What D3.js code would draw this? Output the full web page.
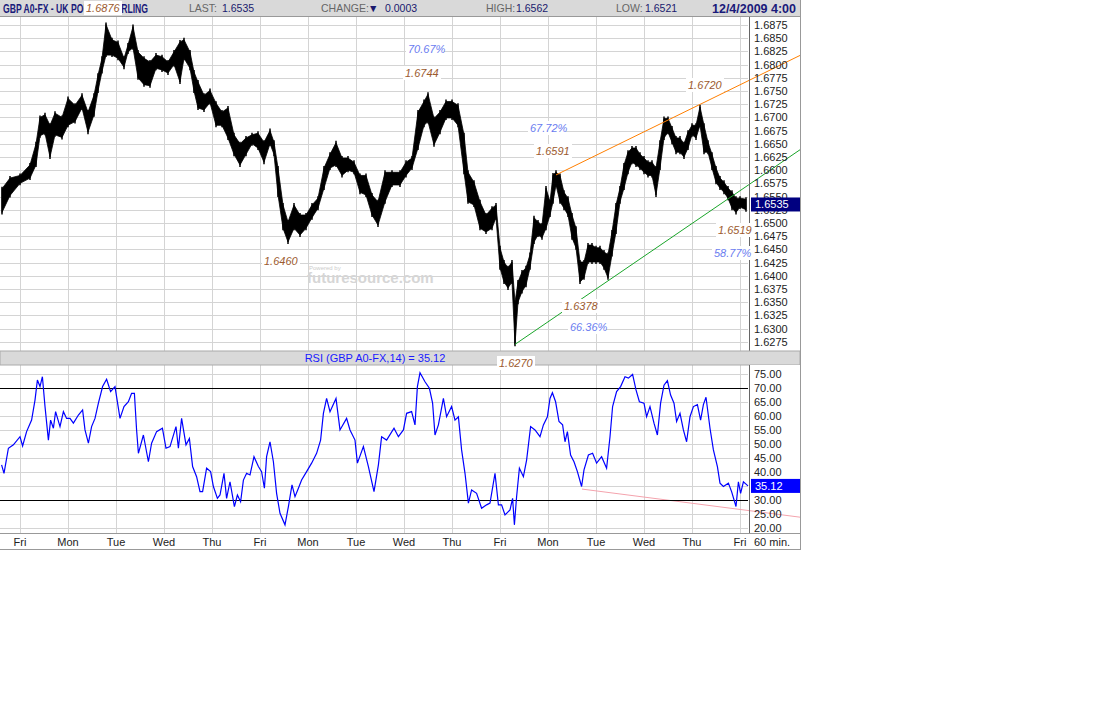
<!DOCTYPE html>
<html><head><meta charset="utf-8">
<script src="https://cdn.jsdelivr.net/npm/d3@7"></script>
<style>
body { margin:0; background:#fff; }
text { font-family:"Liberation Sans", Arial, sans-serif; }
</style></head>
<body><svg id="chart" width="1108" height="722"></svg>
<script>
// hourly price samples (hours from start), highs and lows
var priceHours = [1,5,10,15,18,20,22.5,25,27.5,31,34,37.5,41,44,47,49,51,53,56,59,62,64,66.5,69,72,75,78,81,84,87,90,92,95,97,99,102,105,108,111,114,117,120,123,126,129,132,135,137,139,141.5,144,147,150,153,156,159,162,165,168,171,174,177,180,183,186,189,192.5,196,200,203,206,209,212,214,217,220,223,226,229,232,234,237,240,243,246,248,250,252,254,256,257.5,259,261,263,265,267,269,271,273,275,276.5,278,280,282,284,286,288,290,292,294,296,298,300,302,304,306,308,310,312,314,316,318,320,322,324,326,328,330,332,334,336,338,340,342,344,346,348,350,352,354,356,358,360,362,364,366,368,370,373];
var priceHigh = [1.6565,1.6585,1.6590,1.6610,1.6650,1.6700,1.6705,1.6685,1.6708,1.6700,1.6736,1.6723,1.6742,1.6710,1.6742,1.6780,1.6812,1.6876,1.6847,1.6842,1.6812,1.6837,1.6872,1.6824,1.6812,1.6805,1.6818,1.6815,1.6805,1.6824,1.6843,1.6847,1.6824,1.6786,1.6767,1.6742,1.6751,1.6727,1.6710,1.6718,1.6667,1.6650,1.6661,1.6667,1.6670,1.6653,1.6675,1.6653,1.6604,1.6534,1.6502,1.6534,1.6515,1.6515,1.6534,1.6547,1.6604,1.6630,1.6652,1.6623,1.6623,1.6615,1.6590,1.6590,1.6553,1.6540,1.6596,1.6596,1.6596,1.6615,1.6623,1.6710,1.6730,1.6744,1.6698,1.6710,1.6730,1.6730,1.6723,1.6667,1.6596,1.6577,1.6540,1.6515,1.6528,1.6534,1.6453,1.6426,1.6415,1.6426,1.6350,1.6388,1.6407,1.6415,1.6440,1.6510,1.6502,1.6496,1.6566,1.6540,1.6591,1.6596,1.6590,1.6558,1.6547,1.6515,1.6490,1.6426,1.6426,1.6458,1.6458,1.6453,1.6453,1.6445,1.6440,1.6483,1.6534,1.6566,1.6610,1.6634,1.6642,1.6642,1.6630,1.6623,1.6615,1.6615,1.6604,1.6653,1.6698,1.6698,1.6680,1.6661,1.6661,1.6650,1.6672,1.6685,1.6685,1.6720,1.6685,1.6653,1.6630,1.6604,1.6585,1.6577,1.6566,1.6558,1.6547,1.6547,1.6545];
var priceLow = [1.6520,1.6552,1.6575,1.6585,1.6610,1.6665,1.6670,1.6625,1.6667,1.6662,1.6685,1.6692,1.6718,1.6672,1.6705,1.6750,1.6787,1.6818,1.6818,1.6812,1.6795,1.6824,1.6832,1.6775,1.6762,1.6760,1.6793,1.6790,1.6784,1.6800,1.6767,1.6812,1.6793,1.6750,1.6718,1.6714,1.6728,1.6685,1.6685,1.6661,1.6630,1.6610,1.6630,1.6650,1.6642,1.6615,1.6650,1.6630,1.6553,1.6490,1.6464,1.6490,1.6477,1.6490,1.6510,1.6528,1.6566,1.6604,1.6610,1.6590,1.6600,1.6596,1.6558,1.6553,1.6515,1.6496,1.6540,1.6572,1.6572,1.6590,1.6604,1.6642,1.6685,1.6692,1.6648,1.6672,1.6699,1.6699,1.6685,1.6596,1.6540,1.6534,1.6490,1.6483,1.6490,1.6510,1.6415,1.6388,1.6377,1.6388,1.6270,1.6350,1.6370,1.6382,1.6415,1.6464,1.6477,1.6472,1.6490,1.6515,1.6540,1.6572,1.6540,1.6528,1.6515,1.6472,1.6453,1.6388,1.6396,1.6426,1.6426,1.6426,1.6426,1.6415,1.6396,1.6440,1.6483,1.6540,1.6566,1.6596,1.6615,1.6610,1.6604,1.6596,1.6590,1.6590,1.6553,1.6604,1.6661,1.6672,1.6653,1.6634,1.6634,1.6625,1.6642,1.6667,1.6661,1.6685,1.6634,1.6634,1.6604,1.6577,1.6566,1.6558,1.6547,1.6528,1.6520,1.6530,1.6525];

// RSI(14) samples
var rsiHours = [0.8,2,4.2,6.7,10,11.3,13.3,15.8,17.5,18.7,20,21.2,22.5,24.2,25.3,26.7,27.8,30,31.7,33.3,35,36.7,39.2,41.3,42.5,44.2,45.8,47.5,49.2,51.3,53.3,55.3,57.5,60,62,64.2,65.8,67.2,68.3,69.2,71.7,74.2,75.8,78.3,81.2,83,85,88,89.2,90.8,93,94.7,96.3,98.3,100,101.3,103.3,105.3,106.7,108.7,110,112,113.3,115,117.2,118.7,120.3,121.7,123.3,125,127,129.2,130.8,132.2,133.3,135,136.7,138.3,140,142.5,144.2,146,147.5,149.2,150.8,153.3,155.8,158.3,160.3,161.7,163.3,165,168,170,173.3,175,177.5,178.7,181.7,184.2,187,189.2,190.8,193.3,197,199.2,201.7,203.3,205.8,207.5,208.7,210,212.5,214.7,216.3,217.5,219.2,221.7,223.3,225.8,227.5,229.2,230.8,232.5,234.2,235.8,238.3,240.8,243.3,245,247.5,249.2,250.8,252.5,255,256.3,257.2,258.3,259.7,261.7,263.3,265.3,267.5,270,271.7,273.7,275,276.2,277.8,279.5,281.3,282.5,283.7,285.3,287,288.7,290.8,292,294.2,296.3,298.3,300.8,303.3,305,306.3,308.3,310.3,312.5,314.2,316.3,318,319.7,322,323.3,325,327,328.7,330.3,332,333.7,335.3,337,338.3,340,341.7,343.3,345,346.7,348.7,350.3,351.7,353,355,356.7,358.7,360,361.7,364.2,365.8,368,369.2,370.3,371.7,374];
var rsiValues = [42.6,39.6,48.5,49.7,52.6,49.3,54.4,58.5,65.6,72.7,70.4,73.9,63.3,51.4,58.5,55.6,61.5,56.2,61.5,59.1,59.1,57.4,60.3,62.1,55,50.3,56.2,59.1,64.5,70.4,73,68.6,70.4,59.1,63.3,65,68,68,55,46.7,53.2,43.7,50.3,54.4,55.6,48.5,49.1,56.2,48.5,59.1,49.7,52,42,38.4,33.1,33.1,41.4,40.2,34.9,30.7,31.9,39.6,30.7,36.6,27.8,31.9,29.5,37.2,39.6,39,45.5,42,40.2,34.3,45.5,50.8,43.7,32.5,25.4,21.3,27.8,35.5,31.3,34.3,37.2,40.2,43.2,46.7,51.4,60.9,66.2,61.5,66.2,55,59.1,55,51.4,43.2,49.1,42,33.1,42.6,52.6,51.4,55.6,52.6,55,60.9,61.5,56.8,70.4,75.3,72.1,69.8,64.5,53.2,56.8,66.2,59.7,63.3,58.5,59.7,47.9,39.6,29,33.7,32.5,27.2,28.4,29,39.6,28.4,28.4,24.8,26.6,30.7,21.3,31.3,41.4,38.4,44.3,56.2,55,52.6,56.8,59.7,66.2,68.2,65,58,56.8,50.8,54.4,46.1,43.7,40.2,34.9,40.8,46.1,46.7,43.2,45.5,41.4,52.6,63.3,68.6,70.4,73.9,73.4,74.7,69.2,65,64.5,59.7,63.3,57.4,53.2,64.5,70.9,72.5,67.4,64.5,58,60.9,55,50.8,59.7,63.3,64,58.5,64,66.6,55.6,47.9,42,36.1,34.9,36.1,33.1,27.8,36.6,32.5,36.6,35.12];

var dayLabels = ["Fri","Mon","Tue","Wed","Thu","Fri","Mon","Tue","Wed","Thu","Fri","Mon","Tue","Wed","Thu","Fri"];
var dayHours = d3.range(dayLabels.length).map(function (i) { return 10 + 24 * i; });
var priceTicks = d3.range(1.6275, 1.68751, 0.0025);
var rsiTicks = d3.range(20, 75.1, 5);
var rsiBands = [70, 30];

var header = [
    {text:"LAST:", x:189, c:"#666"}, {text:"1.6535", x:222, c:"#1a1a6e"},
    {text:"CHANGE:", x:321, c:"#666"}, {text:"▼", x:368, c:"#1a1a6e"}, {text:"0.0003", x:385, c:"#1a1a6e"},
    {text:"HIGH:", x:486, c:"#666"}, {text:"1.6562", x:516, c:"#1a1a6e"},
    {text:"LOW:", x:616, c:"#666"}, {text:"1.6521", x:645, c:"#1a1a6e"}
];
// [hour, price] pairs of the drawn trend lines
var orangeLine = [[278, 1.6591], [375, 1.6771]];
var greenLine = [[257.5, 1.6270], [375, 1.6574]];
var pinkLine = [[291, 34.0], [398, 24.2]];

var notes = [
    {t:"1.6876", x:86, y:12, c:"#9c5a2e"}, {t:"70.67%", x:408, y:53, c:"#6a7cf0"},
    {t:"1.6744", x:405, y:77, c:"#9c5a2e"}, {t:"67.72%", x:530, y:132, c:"#6a7cf0"},
    {t:"1.6591", x:536, y:155, c:"#9c5a2e"}, {t:"1.6720", x:688, y:89, c:"#9c5a2e"},
    {t:"1.6460", x:264, y:265, c:"#9c5a2e"}, {t:"1.6519", x:718, y:234, c:"#9c5a2e"},
    {t:"58.77%", x:714, y:257, c:"#6a7cf0"}, {t:"1.6378", x:564, y:310, c:"#9c5a2e"},
    {t:"66.36%", x:570, y:331, c:"#6a7cf0"}, {t:"1.6270", x:499, y:367, c:"#9c5a2e"}
];

var svg = d3.select("#chart");
var plotW = 748;
var x = d3.scaleLinear().domain([0, 374]).range([0, plotW]);
var yP = d3.scaleLinear().domain([1.62593, 1.68902]).range([350, 17]);
var yR = d3.scaleLinear().domain([18.4, 78.06]).range([533, 365]);

// header band
svg.append("rect").attr("x", 0).attr("y", 0).attr("width", 800).attr("height", 16).attr("fill", "#d9d9d9");
svg.append("text").attr("x", 3).attr("y", 13).attr("font-size", 13).attr("font-weight", "bold")
    .attr("textLength", 145).attr("lengthAdjust", "spacingAndGlyphs")
    .attr("fill", "#1a1a7a").text("GBP A0-FX - UK POUND STERLING");
svg.selectAll("text.hdr").data(header).enter().append("text").attr("class", "hdr")
    .attr("x", function (d) { return d.x; }).attr("y", 12).attr("font-size", 10.5)
    .attr("fill", function (d) { return d.c; }).text(function (d) { return d.text; });
svg.append("text").attr("x", 712).attr("y", 13).attr("font-size", 13)
    .attr("textLength", 84).attr("lengthAdjust", "spacingAndGlyphs")
    .attr("font-weight", "bold").attr("fill", "#1a1a7a").text("12/4/2009 4:00");
svg.append("line").attr("x1", 0).attr("x2", 800).attr("y1", 16.5).attr("y2", 16.5).attr("stroke", "#999");

// grids
var grid = svg.append("g").attr("stroke", "#d4d4d4").attr("stroke-width", 1);
grid.selectAll("line.pg").data(priceTicks).enter().append("line")
    .attr("x1", 0).attr("x2", plotW).attr("y1", function (d) { return Math.round(yP(d)) + 0.5; })
    .attr("y2", function (d) { return Math.round(yP(d)) + 0.5; });
grid.selectAll("line.rg").data(rsiTicks).enter().append("line")
    .attr("x1", 0).attr("x2", plotW).attr("y1", function (d) { return Math.round(yR(d)) + 0.5; })
    .attr("y2", function (d) { return Math.round(yR(d)) + 0.5; });
[[17, 351], [365, 533]].forEach(function (r) {
    grid.selectAll(null).data(dayHours).enter().append("line")
        .attr("x1", function (d) { return Math.round(x(d)) + 0.5; })
        .attr("x2", function (d) { return Math.round(x(d)) + 0.5; })
        .attr("y1", r[0]).attr("y2", r[1]);
});

// watermark
svg.append("text").attr("x", 309).attr("y", 270).attr("font-size", 6).attr("fill", "#ccc").text("Powered by");
svg.append("text").attr("x", 307).attr("y", 283).attr("font-size", 15).attr("font-weight", "bold")
    .attr("fill", "#d6d6d6").text("futuresource.com");

// price bars
var pts = priceHours.map(function (h, i) { return {h:h, hi:priceHigh[i], lo:priceLow[i]}; });
svg.append("path").datum(pts)
    .attr("d", d3.area().x(function (d) { return x(d.h); })
        .y0(function (d) { return yP(d.lo); }).y1(function (d) { return yP(d.hi); }))
    .attr("fill", "#000").attr("stroke", "#000").attr("stroke-width", 0.8);
svg.selectAll("line.bar").data(pts).enter().append("line").attr("class", "bar")
    .attr("x1", function (d) { return x(d.h); }).attr("x2", function (d) { return x(d.h); })
    .attr("y1", function (d) { return yP(d.lo) + 2; }).attr("y2", function (d) { return yP(d.hi) - 2; })
    .attr("stroke", "#000").attr("stroke-width", 1.5);

// trend lines extended to the right edge
function extended(pair, ys) {
    var x0 = x(pair[0][0]), y0 = ys(pair[0][1]), x1 = x(pair[1][0]), y1 = ys(pair[1][1]);
    var k = (y1 - y0) / (x1 - x0);
    return [x0, y0, 800, y0 + k * (800 - x0)];
}
[[orangeLine, yP, "#ff7f00"], [greenLine, yP, "#1aa52a"], [pinkLine, yR, "#f4a3ad"]].forEach(function (l) {
    var c = extended(l[0], l[1]);
    svg.append("line").attr("x1", c[0]).attr("y1", c[1]).attr("x2", c[2]).attr("y2", c[3])
        .attr("stroke", l[2]).attr("stroke-width", 1);
});

// right price axis
svg.append("rect").attr("x", 749).attr("y", 17).attr("width", 51).attr("height", 334).attr("fill", "#fff");
var oc = extended(orangeLine, yP), gc = extended(greenLine, yP);
[[oc, "#ff7f00"], [gc, "#1aa52a"]].forEach(function (p) {
    var c = p[0];
    svg.append("line").attr("x1", 749).attr("y1", c[1] + (c[3] - c[1]) * (749 - c[0]) / (800 - c[0]))
        .attr("x2", 800).attr("y2", c[3]).attr("stroke", p[1]);
});
svg.append("line").attr("x1", 749.5).attr("x2", 749.5).attr("y1", 17).attr("y2", 351).attr("stroke", "#666");
svg.selectAll("text.pt").data(priceTicks).enter().append("text").attr("class", "pt")
    .attr("x", 754).attr("y", function (d) { return yP(d) + 4; }).attr("font-size", 11).attr("fill", "#222")
    .text(function (d) { return d.toFixed(4); });
svg.append("rect").attr("x", 751).attr("y", yP(1.6535) - 7).attr("width", 49).attr("height", 14).attr("fill", "#000080");
svg.append("text").attr("x", 755).attr("y", yP(1.6535) + 4).attr("font-size", 11).attr("fill", "#fff").text("1.6535");

// RSI header
svg.append("rect").attr("x", 0).attr("y", 351).attr("width", 800).attr("height", 14).attr("fill", "#d9d9d9")
    .attr("stroke", "#aaa");
svg.append("text").attr("x", 375).attr("y", 362).attr("text-anchor", "middle").attr("font-size", 11)
    .attr("fill", "#1a1aff").text("RSI (GBP A0-FX,14) = 35.12");

// RSI bands and line
svg.selectAll("line.band").data(rsiBands).enter().append("line")
    .attr("x1", 0).attr("x2", plotW).attr("y1", function (d) { return Math.round(yR(d)) + 0.5; })
    .attr("y2", function (d) { return Math.round(yR(d)) + 0.5; }).attr("stroke", "#000");
svg.append("path").datum(rsiHours.map(function (h, i) { return [h, rsiValues[i]]; }))
    .attr("d", d3.line().x(function (d) { return x(d[0]); }).y(function (d) { return yR(d[1]); }))
    .attr("fill", "none").attr("stroke", "#0000ff").attr("stroke-width", 1.2);
svg.append("rect").attr("x", 749).attr("y", 365).attr("width", 51).attr("height", 168).attr("fill", "#fff");
var pc = extended(pinkLine, yR);
svg.append("line").attr("x1", 749).attr("y1", pc[1] + (pc[3] - pc[1]) * (749 - pc[0]) / (800 - pc[0]))
    .attr("x2", 800).attr("y2", pc[3]).attr("stroke", "#f4a3ad");
svg.append("line").attr("x1", 749.5).attr("x2", 749.5).attr("y1", 365).attr("y2", 534).attr("stroke", "#666");
svg.selectAll("text.rt").data(rsiTicks).enter().append("text").attr("class", "rt")
    .attr("x", 754).attr("y", function (d) { return yR(d) + 4; }).attr("font-size", 11).attr("fill", "#222")
    .text(function (d) { return d.toFixed(2); });
svg.append("rect").attr("x", 751).attr("y", yR(35.12) - 7).attr("width", 49).attr("height", 14).attr("fill", "#0000ff");
svg.append("text").attr("x", 755).attr("y", yR(35.12) + 4).attr("font-size", 11).attr("fill", "#fff").text("35.12");

// time axis
svg.append("line").attr("x1", 0).attr("x2", 800).attr("y1", 533.5).attr("y2", 533.5).attr("stroke", "#999");
svg.selectAll("text.day").data(dayHours).enter().append("text").attr("class", "day")
    .attr("x", function (d) { return x(d); }).attr("y", 546).attr("text-anchor", "middle")
    .attr("font-size", 11).attr("fill", "#222").text(function (d, i) { return dayLabels[i]; });
svg.append("text").attr("x", 754).attr("y", 546).attr("font-size", 11).attr("fill", "#222").text("60 min.");
svg.append("line").attr("x1", 0).attr("x2", 800).attr("y1", 549.5).attr("y2", 549.5).attr("stroke", "#999");
svg.append("line").attr("x1", 800.5).attr("x2", 800.5).attr("y1", 0).attr("y2", 550).attr("stroke", "#999");

// annotations with white boxes
var ng = svg.selectAll("g.note").data(notes).enter().append("g").attr("class", "note");
ng.append("rect").attr("x", function (d) { return d.x - 2; }).attr("y", function (d) { return d.y - 11; })
    .attr("width", 38).attr("height", 14).attr("fill", "#fff");
ng.append("text").attr("x", function (d) { return d.x; }).attr("y", function (d) { return d.y; })
    .attr("font-family", "'DejaVu Serif', serif").attr("font-style", "italic").attr("font-size", 11)
    .attr("fill", function (d) { return d.c; }).text(function (d) { return d.t; });
</script></body></html>
